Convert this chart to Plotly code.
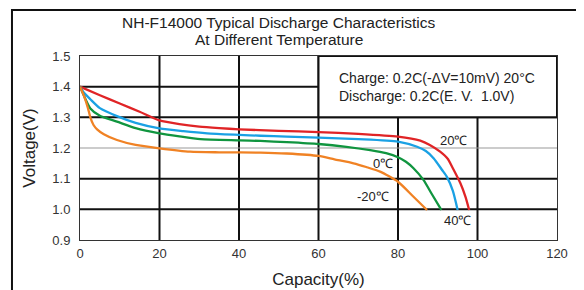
import plotly.graph_objects as go

# ---- data ----
x_20 = [0, 5, 10, 15, 20, 25, 30, 35, 40, 50, 60, 70, 80, 85.6, 88, 90.6, 92.5, 93.6, 95.7, 97, 97.9]
v_20 = [1.40, 1.372, 1.345, 1.318, 1.290, 1.278, 1.270, 1.265, 1.261, 1.256, 1.252, 1.246, 1.237, 1.224, 1.210, 1.188, 1.165, 1.139, 1.085, 1.040, 0.998]

x_40 = [0, 1, 2.6, 5, 9.3, 14, 20, 26, 32, 40, 45.4, 52, 60, 70, 80, 84.8, 87, 89, 91, 92.3, 93.8, 95]
v_40 = [1.40, 1.38, 1.359, 1.33, 1.304, 1.282, 1.264, 1.255, 1.248, 1.243, 1.240, 1.237, 1.234, 1.229, 1.221, 1.204, 1.19, 1.166, 1.13, 1.106, 1.06, 0.998]

x_0 = [0, 1, 2.6, 5, 9.3, 14, 20, 25, 30.3, 40, 45.4, 52, 60, 67, 73, 77, 80, 82, 83.9, 86.4, 88.5, 90.9]
v_0 = [1.40, 1.37, 1.329, 1.305, 1.286, 1.265, 1.248, 1.238, 1.229, 1.225, 1.223, 1.219, 1.213, 1.204, 1.193, 1.183, 1.170, 1.155, 1.134, 1.096, 1.05, 0.998]

x_m20 = [0, 1, 2, 2.6, 3.4, 4.3, 6, 9.3, 14, 20, 27.7, 35, 45.4, 52, 60, 64, 68.8, 72, 75.5, 80, 83.9, 87.3]
v_m20 = [1.40, 1.37, 1.33, 1.30, 1.275, 1.261, 1.245, 1.226, 1.21, 1.199, 1.188, 1.186, 1.185, 1.182, 1.174, 1.163, 1.150, 1.138, 1.123, 1.090, 1.041, 0.998]

series = [
    ("20℃", x_20, v_20, "#e02426"),
    ("40℃", x_40, v_40, "#1aa1e4"),
    ("0℃", x_0, v_0, "#10953f"),
    ("-20℃", x_m20, v_m20, "#f08224"),
]

x_ticks = [0, 20, 40, 60, 80, 100, 120]
y_ticks = [0.9, 1.0, 1.1, 1.2, 1.3, 1.4, 1.5]
grid_x = [20, 40, 60, 80, 100]
grid_y_thick = [1.0, 1.1, 1.3, 1.4]
grid_y_thin = [1.2]

curve_labels = [("20℃", 94, 1.226), ("0℃", 76.3, 1.150), ("-20℃", 73.6, 1.043), ("40℃", 95, 0.965)]

title_lines = ["NH-F14000 Typical Discharge Characteristics", "At Different Temperature"]
note_lines = ["Charge: 0.2C(-ΔV=10mV) 20°C", "Discharge: 0.2C(E. V.  1.0V)"]

FONT = "Liberation Sans, Arial, sans-serif"
TXT = "#222222"

fig = go.Figure()
for name, xs, vs, col in series:
    fig.add_trace(go.Scatter(x=xs, y=vs, mode="lines", name=name,
                             line=dict(color=col, width=2.3, shape="spline", smoothing=0.6),
                             showlegend=False, hoverinfo="skip"))

shapes = []
for gx in grid_x:
    shapes.append(dict(type="line", xref="x", yref="y", x0=gx, x1=gx, y0=0.9, y1=1.5,
                       line=dict(color="#111111", width=2), layer="below"))
for gy in grid_y_thick:
    shapes.append(dict(type="line", xref="x", yref="y", x0=0, x1=120, y0=gy, y1=gy,
                       line=dict(color="#111111", width=2), layer="below"))
for gy in grid_y_thin:
    shapes.append(dict(type="line", xref="x", yref="y", x0=0, x1=120, y0=gy, y1=gy,
                       line=dict(color="#999999", width=1), layer="below"))
# note box
shapes.append(dict(type="rect", xref="x", yref="y", x0=60, x1=120, y0=1.3, y1=1.5,
                   fillcolor="white", line=dict(color="#111111", width=2), layer="below"))
# outer frame
shapes.append(dict(type="rect", xref="paper", yref="paper", x0=-0.1426, x1=1.0545, y0=-0.3, y1=1.25,
                   line=dict(color="#111111", width=2), fillcolor="rgba(0,0,0,0)"))

title_x = (279 - 80) / 477
annotations = [
    dict(text=title_lines[0], xref="paper", yref="paper", x=title_x, y=1.180, yanchor="middle",
         showarrow=False, font=dict(family=FONT, size=15.5, color=TXT)),
    dict(text=title_lines[1], xref="paper", yref="paper", x=title_x, y=1.088, yanchor="middle",
         showarrow=False, font=dict(family=FONT, size=15.5, color=TXT)),
    dict(text=note_lines[0], xref="x", yref="y", x=64.7, y=1.428, xanchor="left", yanchor="middle",
         showarrow=False, font=dict(family=FONT, size=14, color=TXT)),
    dict(text=note_lines[1], xref="x", yref="y", x=64.7, y=1.371, xanchor="left", yanchor="middle",
         showarrow=False, font=dict(family=FONT, size=14, color=TXT)),
]
for t, lx, ly in curve_labels:
    annotations.append(dict(text=t, xref="x", yref="y", x=lx, y=ly, showarrow=False,
                            font=dict(family=FONT, size=13, color=TXT)))

fig.update_layout(
    width=576, height=282,
    margin=dict(l=72, r=27, t=48, b=50),
    paper_bgcolor="white", plot_bgcolor="white",
    shapes=shapes, annotations=annotations,
    font=dict(family=FONT, size=13, color=TXT),
)
fig.update_xaxes(range=[0, 120], tickvals=x_ticks, ticktext=[str(v) for v in x_ticks],
                 showgrid=False, zeroline=False, showline=True, mirror=True, automargin=False,
                 linecolor="#333333", linewidth=1, ticks="outside", ticklen=1, tickcolor="rgba(0,0,0,0)",
                 title=dict(text="Capacity(%)", font=dict(family=FONT, size=17, color=TXT), standoff=13),
                 tickfont=dict(family=FONT, size=13, color="#333333"))
fig.update_yaxes(range=[0.9, 1.5], tickvals=y_ticks, ticktext=["%.1f" % v for v in y_ticks],
                 showgrid=False, zeroline=False, showline=True, mirror=True, automargin=False,
                 linecolor="#333333", linewidth=1, ticks="outside", ticklen=6, tickcolor="rgba(0,0,0,0)",
                 title=dict(text="Voltage(V)", font=dict(family=FONT, size=17, color=TXT), standoff=12),
                 tickfont=dict(family=FONT, size=13, color="#333333"))

fig.write_html("out.html")
